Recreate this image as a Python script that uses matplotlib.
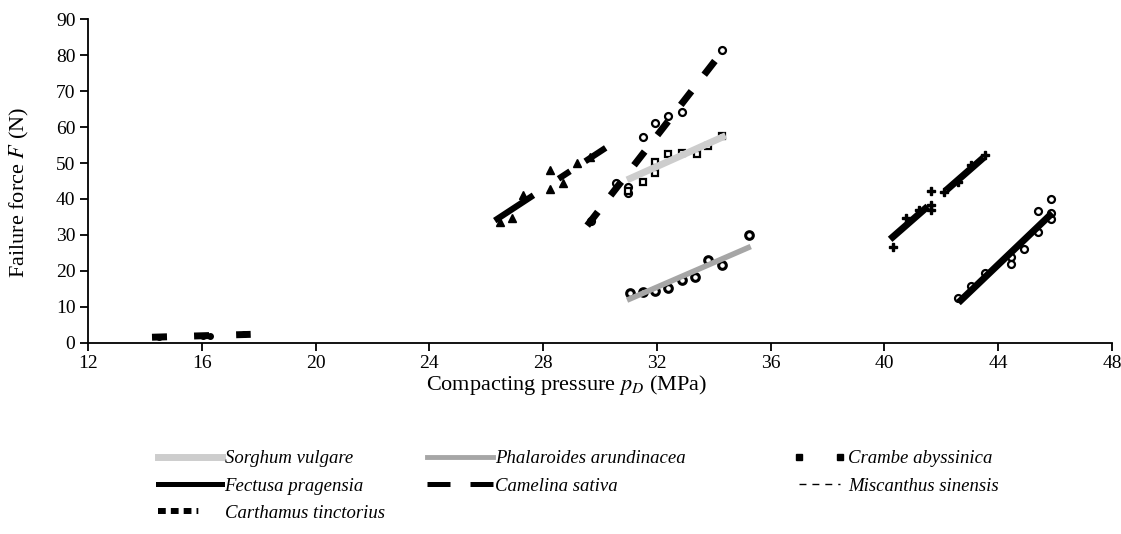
import matplotlib.pyplot as plt
from matplotlib.lines import Line2D

plt.rcParams['font.family'] = 'Liberation Serif'
plt.rcParams['mathtext.fontset'] = 'stix'

# Carthamus tinctorius
car_x = [14.5, 16.05, 16.3, 17.5]
car_y = [1.6, 1.9, 2.0, 2.4]
car_tx = [14.25, 17.72]
car_ty = [1.6, 2.4]

# Crambe abyssinica (triangles)
cra_x = [26.5, 26.9, 27.3, 28.25, 28.25, 28.7, 29.2, 29.65]
cra_y = [33.5, 34.7, 41.1, 48.1, 42.8, 44.4, 49.9, 51.6]
cra_tx = [26.3, 30.2]
cra_ty = [34.0, 54.2]

# Camelina sativa
cam_x = [29.7, 30.55, 31.0, 31.0, 31.5, 31.95, 32.4, 32.9, 34.3]
cam_y = [33.8, 44.5, 43.2, 41.7, 57.3, 61.0, 63.0, 64.1, 81.3]
cam_tx = [29.55, 34.3]
cam_ty = [32.6, 81.0]

# Sorghum vulgare
sor_x = [31.0, 31.5, 31.95, 31.95, 32.4, 32.9, 33.4, 33.8, 34.3]
sor_y = [42.3, 44.8, 47.2, 50.4, 52.4, 52.7, 52.4, 54.6, 57.6]
sor_tx = [30.95, 34.42]
sor_ty = [45.3, 57.6]

# Phalaroides arundinacea
pha_x = [31.05, 31.5, 31.95, 32.4, 32.9, 33.35, 33.8, 34.3, 35.25]
pha_y = [13.9, 14.3, 14.5, 15.3, 17.5, 18.2, 23.0, 21.7, 30.1]
pha_tx = [30.95, 35.3]
pha_ty = [11.9, 26.8]

# Miscanthus sinensis
mis_x = [40.3, 40.75, 41.2, 41.65, 41.65, 41.65, 42.1, 42.6, 43.05, 43.55]
mis_y = [26.6, 34.7, 36.9, 42.3, 38.4, 36.9, 42.0, 44.8, 49.4, 52.3]
mis_tx = [40.2, 43.6]
mis_ty = [28.8, 52.3]

# Fectusa pragensia
fec_x = [42.6, 43.05, 43.55, 44.45, 44.45, 44.9, 45.4, 45.4, 45.85, 45.85, 45.85]
fec_y = [12.6, 15.8, 19.4, 23.9, 21.9, 26.1, 30.8, 36.8, 40.1, 34.5, 36.0]
fec_tx = [42.6, 45.9]
fec_ty = [11.2, 36.1]

fig = plt.figure(figsize=(11.21, 5.34), dpi=100)
ax = fig.add_axes([88 / 1121, 0.3577, 1024 / 1121, 0.6067])

# markers
ax.plot(car_x, car_y, 'o', color='black', ms=4)
ax.plot(cra_x, cra_y, '^', color='black', ms=5.5)
ax.plot(cam_x, cam_y, 'o', mfc='white', mec='black', mew=1.6, ms=5)
ax.plot(sor_x, sor_y, 's', mfc='white', mec='black', mew=1.6, ms=4.5)
ax.plot(pha_x, pha_y, 'o', mfc='white', mec='black', mew=2.2, ms=5.5)
ax.plot(mis_x, mis_y, 'P', color='black', ms=5.5)
ax.plot(fec_x, fec_y, 'o', mfc='white', mec='black', mew=1.6, ms=5)

# trend lines
ax.plot(car_tx, car_ty, color='black', lw=5, dashes=(2.16, 3.9), dash_capstyle='butt')
ax.plot(cra_tx, cra_ty, color='black', lw=4.5, dashes=(7.4, 4.8, 2.2, 2.9), dash_capstyle='butt')
ax.plot(cam_tx, cam_ty, color='black', lw=5, dashes=(2.5, 3.0), dash_capstyle='butt')
ax.plot(sor_tx, sor_ty, color='#cdcdcd', lw=5, solid_capstyle='butt')
ax.plot(pha_tx, pha_ty, color='#a6a6a6', lw=4, solid_capstyle='butt')
ax.plot(mis_tx, mis_ty, color='black', lw=5, dashes=(7.2, 3.5), dash_capstyle='butt')
ax.plot(fec_tx, fec_ty, color='black', lw=5, solid_capstyle='butt')

ax.set_xlim(12, 48)
ax.set_ylim(0, 90)
ax.set_xticks(range(12, 49, 4))
ax.set_yticks(range(0, 91, 10))
ax.spines['top'].set_visible(False)
ax.spines['right'].set_visible(False)
for s in ['left', 'bottom']:
    ax.spines[s].set_linewidth(1.3)
ax.tick_params(direction='out', length=6, width=1.3, labelsize=14, pad=3)

ax.set_xlabel('Compacting pressure $p_D$ (MPa)', fontsize=16)
ax.set_ylabel('Failure force $F$ (N)', fontsize=16)
ax.xaxis.set_label_coords(0.467, -0.093)
ax.yaxis.set_label_coords(-0.056, 0.463)

# legend, three columns placed by hand
prop = {'style': 'italic', 'size': 13.5}
top = 1 - 450 / 534
common = dict(loc='upper left', frameon=False, borderpad=0, borderaxespad=0,
              handletextpad=0.15, labelspacing=0.55, prop=prop)

h1 = [Line2D([], [], color='#cdcdcd', lw=5),
      Line2D([], [], color='black', lw=3.6),
      Line2D([], [], color='black', lw=4.3,
             dashes=(1.3, 0.85, 1.3, 0.85, 1.3, 0.85, 0.3, 20), dash_capstyle='butt')]
fig.legend(h1, ['Sorghum vulgare', 'Fectusa pragensia', 'Carthamus tinctorius'],
           bbox_to_anchor=(158 / 1121, top), handlelength=3.4, **common)

h2 = [Line2D([], [], color='#a6a6a6', lw=3.5),
      Line2D([], [], color='black', lw=3.6, dashes=(4.6, 4.0), dash_capstyle='butt')]
fig.legend(h2, ['Phalaroides arundinacea', 'Camelina sativa'],
           bbox_to_anchor=(427 / 1121, top), handlelength=3.5, **common)

h3 = [Line2D([], [], ls='none', marker='s', ms=4.5, color='black'),
      Line2D([], [], color='black', lw=1, dashes=(5, 4.3))]
fig.legend(h3, ['Crambe abyssinica', 'Miscanthus sinensis'], numpoints=2,
           bbox_to_anchor=(793 / 1121, top), handlelength=2.8, **common)

fig.savefig('out.png', dpi=100)
